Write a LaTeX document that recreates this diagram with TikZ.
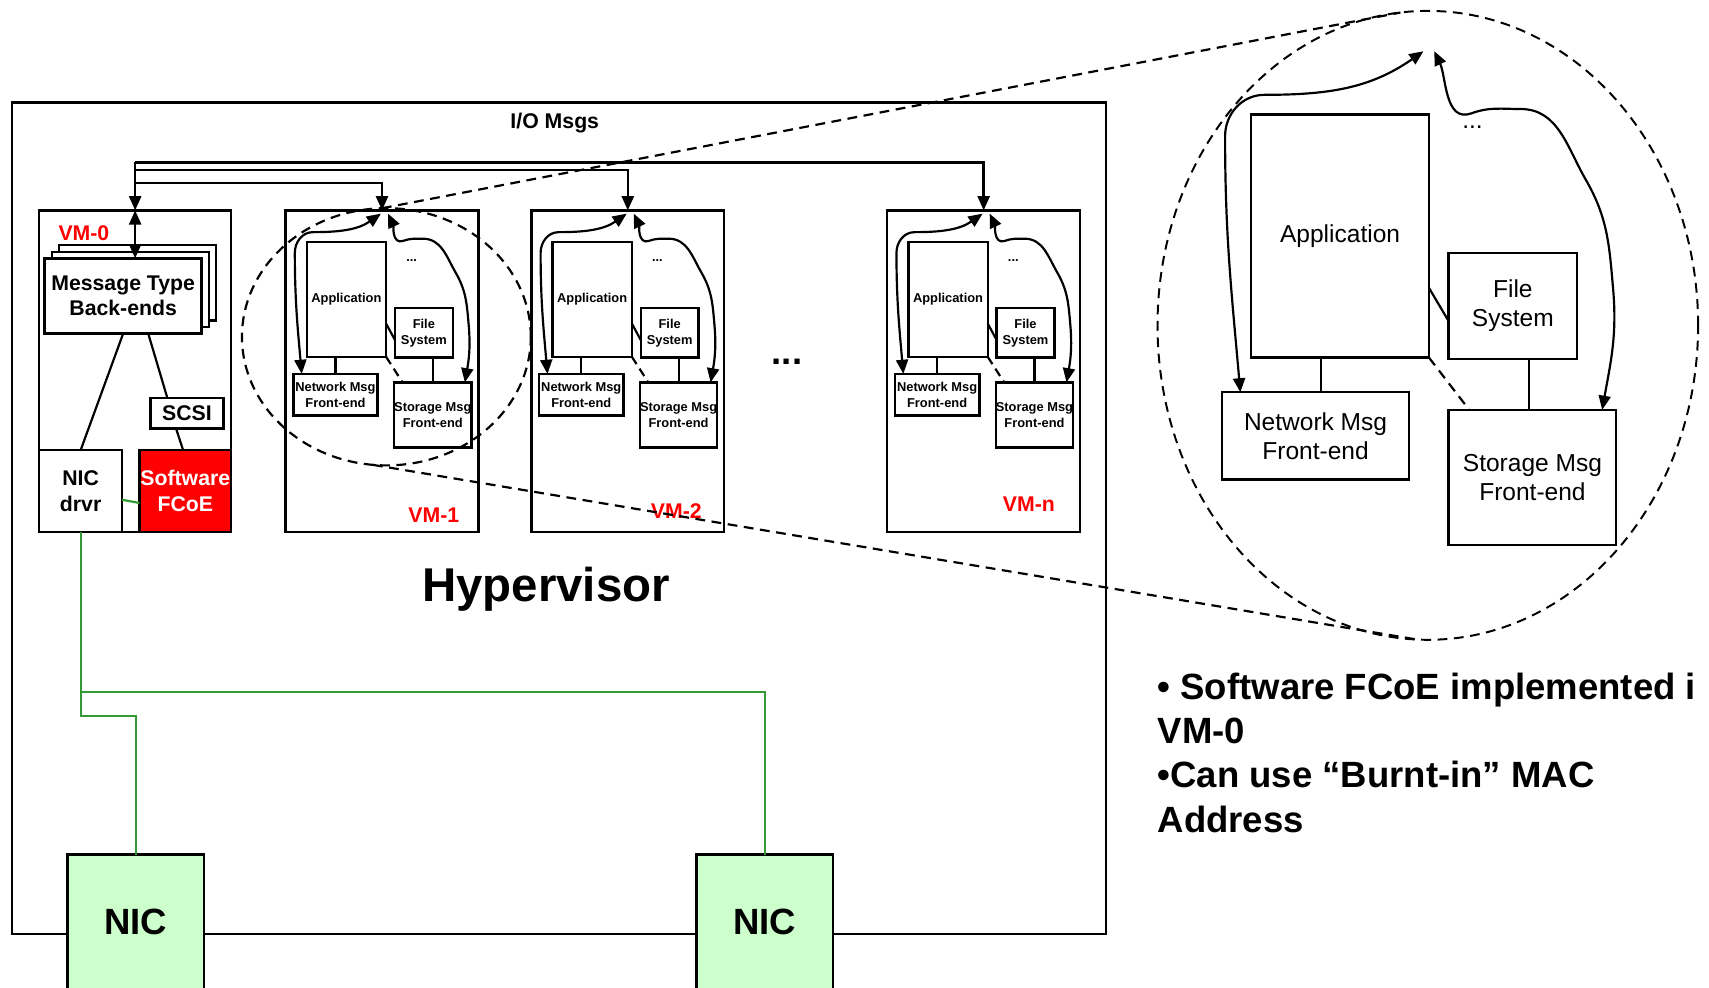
\documentclass[tikz,border=0pt]{standalone}
\usepackage{fontspec}
\setmainfont{Liberation Sans}
\usetikzlibrary{arrows.meta,shapes.geometric}
\definecolor{vmred}{HTML}{FF0000}
\definecolor{nicgreen}{HTML}{CCFFCC}
\definecolor{linkgreen}{HTML}{339933}

\begin{document}
\begin{tikzpicture}[x=1pt,y=-1pt,
    box/.style={draw,line width=2.2pt,fill=white,inner sep=0pt,outer sep=0pt,align=center},
    bigtxt/.style={font=\fontsize{19.5}{23.5}\selectfont\bfseries},
    vmtxt/.style={font=\fontsize{11.8}{14.5}\selectfont\bfseries},
    zoomtxt/.style={font=\fontsize{22.5}{26.5}\selectfont},
    hugetxt/.style={font=\fontsize{33.5}{40.7}\selectfont\bfseries},
    vmname/.style={bigtxt,text=vmred},
    wire/.style={line width=2pt},
    flow/.style={line width=2.2pt,-{Triangle[length=13pt,width=11pt]}},
    flows/.style={line width=2pt,{Triangle[length=13pt,width=11pt]}-{Triangle[length=13pt,width=11pt]}},
    link/.style={draw=linkgreen,line width=2pt},
    lens/.style={draw,ellipse,line width=2pt,dash pattern=on 9pt off 6pt,inner sep=0pt,outer sep=0pt},
    lensline/.style={line width=2pt,dash pattern=on 9pt off 6pt}]
  \useasboundingbox (0,0) rectangle (1568,906);
  \clip (0,0) rectangle (1568,906);

  % hypervisor frame
  \node[box,minimum width=1004pt,minimum height=763pt] (hyp) at (513,475.5) {};
  \node[bigtxt] (iomsgs) at (509,113) {I/O Msgs};
  \node[font=\fontsize{43.5}{52}\selectfont\bfseries] (hvlabel) at (501,541) {Hypervisor};

  % VM-0
  \node[box,minimum width=176pt,minimum height=295pt] (vm0) at (124,340.5) {};
  \node[box,minimum width=144pt,minimum height=69pt] (msgb) at (126,259.5) {};
  \node[box,minimum width=144pt,minimum height=69pt] (msgm) at (119.5,265.5) {};
  \node[box,bigtxt,minimum width=144pt,minimum height=69pt] (msg) at (113,271.5) {Message Type\\Back-ends};
  \node[vmname] (vmlbl0) at (77,214) {VM-0};
  \node[box,bigtxt,minimum width=76pt,minimum height=75pt] (drvr) at (74,450.5) {NIC\\drvr};
  \node[box,bigtxt,fill=vmred,text=white,minimum width=84pt,minimum height=75pt] (fcoe) at (170,450.5) {Software\\FCoE};
  \node[box,bigtxt,minimum width=67pt,minimum height=28pt] (scsi) at (171.5,379) {SCSI};
  \draw[wire] (msg.south) -- (drvr.north);
  \draw[wire] ([xshift=23pt]msg.south) -- ([xshift=-18pt]scsi.north);
  \draw[wire] ([xshift=-10pt]scsi.south) -- ([xshift=-2pt]fcoe.north);
  \draw[flows] (vm0.north) -- (vm0.north |- msg.north);

  % guest VMs
  \foreach \i/\dx/\lx/\ly in {1/0/398/473,2/225.5/395/469,n/552/392/463}{
    \begin{scope}[xshift=\dx pt]
      \node[box,minimum width=177pt,minimum height=295pt] (vm\i) at (350.5,340.5) {};
      \node[vmname] (vmlbl\i) at (\lx,\ly) {VM-\i};
      \node[box,vmtxt,minimum width=72.8pt,minimum height=105pt] (app\i) at (317.8,274.8) {Application};
      \node[box,vmtxt,minimum width=53pt,minimum height=45.3pt] (fs\i) at (388.9,305.5) {File\\System};
      \node[box,vmtxt,minimum width=77.4pt,minimum height=38.3pt] (net\i) at (307.8,362.2) {Network Msg\\Front-end};
      \node[box,vmtxt,minimum width=69.5pt,minimum height=59.6pt] (st\i) at (397.1,380.6) {Storage Msg\\Front-end};
      \node[vmtxt,anchor=base] (dots\i) at (377.7,240) {...};
      \draw[wire] (net\i.north) -- (net\i.north |- app\i.south);
      \draw[wire] (st\i.north) -- (st\i.north |- fs\i.south);
      \draw[wire] ([yshift=-22pt]app\i.east) -- ([yshift=-6.5pt]fs\i.west);
      \draw[wire,dash pattern=on 8pt off 5pt] (app\i.south east) -- ([xshift=7.6pt]st\i.north west);
      \draw[flows] ([xshift=-1pt,yshift=-3pt]vm\i.north) to[out=-145,in=0] (287,213)
        to[out=180,in=90] (270.5,232) to[out=-90,in=95] ([xshift=7.7pt]net\i.north west);
      \draw[flows] ([xshift=5.5pt,yshift=-3pt]vm\i.north) to[out=-65,in=200] (370,221)
        to[out=20,in=180] (388,219) to[out=0,in=120] (418,250) to[out=-60,in=95] (430,298)
        to[out=-85,in=80] ([xshift=-6pt]st\i.north east);
    \end{scope}
  }
  \node[hugetxt,anchor=base] (vmdots) at (722,334) {...};

  % I/O message paths
  \path (vm0.north) ++(0,-44) coordinate (io0) ++(0,7) coordinate (io2) ++(0,12) coordinate (io1);
  \draw[flow] (io0) -- (vm0.north);
  \draw[flow] (io0) -| (vmn.north);
  \draw[flow] (io2) -| (vm2.north);
  \draw[flow] (io1) -| (vm1.north);

  % NICs
  \node[box,hugetxt,fill=nicgreen,minimum width=125pt,minimum height=124pt] (nic1) at (124.5,846) {NIC};
  \node[box,hugetxt,fill=nicgreen,minimum width=125pt,minimum height=124pt] (nic2) at (701.5,846) {NIC};
  \draw[link] (drvr.south) -- ++(0,147) coordinate (tap) -| (nic2.north);
  \draw[link] (tap) -- ++(0,22) -| (nic1.north);
  \draw[link] ([yshift=-8pt]drvr.east) -- ([yshift=-11pt]fcoe.west);

  % zoomed view
  \node[box,zoomtxt,line width=2pt,minimum width=163pt,minimum height=223pt] (zapp) at (1229.5,216.5) {Application};
  \node[box,zoomtxt,line width=2pt,minimum width=118pt,minimum height=97pt] (zfs) at (1388,280.5) {File\\System};
  \node[box,zoomtxt,line width=2pt,minimum width=172pt,minimum height=80pt] (znet) at (1207,400) {Network Msg\\Front-end};
  \node[box,zoomtxt,line width=2pt,minimum width=154pt,minimum height=124pt] (zst) at (1406,438) {Storage Msg\\Front-end};
  \node[zoomtxt,anchor=base] (zdots) at (1351,118) {...};
  \coordinate (zhub) at (1311,44);
  \draw[wire] ([xshift=5pt]znet.north) -- ([xshift=5pt]znet.north |- zapp.south);
  \draw[wire] ([xshift=-3pt]zst.north) -- ([xshift=-3pt]zst.north |- zfs.south);
  \draw[wire] ([yshift=-47.5pt]zapp.east) -- ([yshift=-14pt]zfs.west);
  \draw[wire,dash pattern=on 9pt off 6pt] (zapp.south east) -- ([xshift=19pt]zst.north west);
  \draw[flows] ([xshift=-5pt,yshift=-3pt]zhub) to[out=-145,in=0] (1160,87)
    to[out=180,in=90] (1124,125) to[out=-90,in=95] ([xshift=17pt]znet.north west);
  \draw[flows] ([xshift=5pt,yshift=-3pt]zhub) to[out=-65,in=200] (1350,104)
    to[out=20,in=180] (1395,100) to[out=0,in=120] (1455,165) to[out=-60,in=95] (1480,265)
    to[out=-85,in=80] ([xshift=-13pt]zst.north east);

  % magnifier
  \node[lens,minimum width=265pt,minimum height=236pt] (lens1) at (354.5,309) {};
  \node[lens,line width=1.8pt,minimum width=496pt,minimum height=577pt] (lens2) at (1310,298.5) {};
  \draw[lensline] (lens1.92) -- (lens2.95);
  \draw[lensline] (lens1.264) -- (lens2.268);

  % notes
  \node[hugetxt,anchor=north west,align=left,inner sep=0pt] (notes) at (1062,617)
    {• Software FCoE implemented i\\VM-0\\•Can use “Burnt-in” MAC\\Address};
\end{tikzpicture}
\end{document}
